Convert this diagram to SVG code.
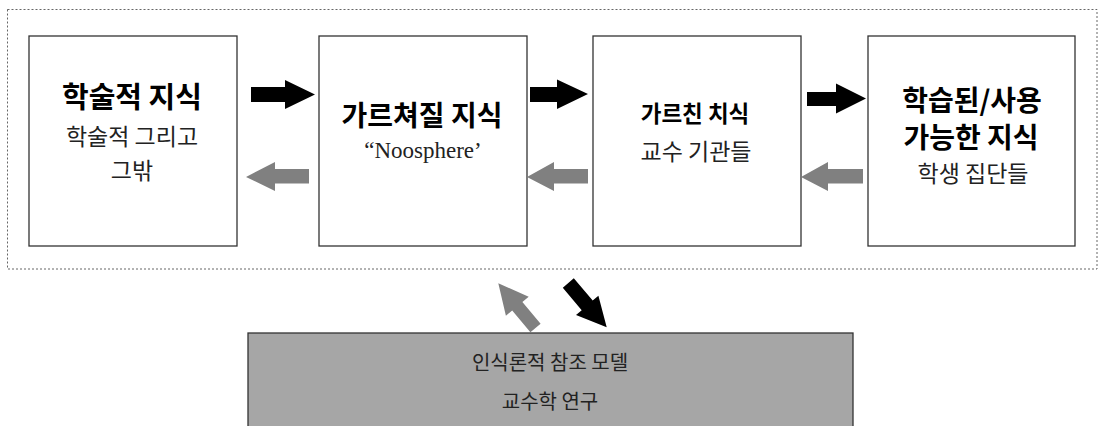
<svg xmlns="http://www.w3.org/2000/svg" width="1099" height="426" viewBox="0 0 1099 426">
<style>
.box{fill:#fff;stroke:#333;stroke-width:1.3}
.frame{fill:none;stroke:#666;stroke-width:1;stroke-dasharray:2 2}
.t{font-family:"Noto Sans CJK KR","Noto Sans",sans-serif;text-anchor:middle;fill:#222}
.b{font-weight:bold;fill:#000}
.s{font-family:"Liberation Serif","Noto Sans CJK KR",serif;text-anchor:middle;fill:#222}
.fw{fill:#000}
.bw{fill:#808080}
</style>
<rect class="frame" x="7.5" y="9.5" width="1089.5" height="259.5"/>
<g id="node1">
<rect class="box" x="29" y="36" width="208" height="210"/>
<text class="t b" x="132" y="108" font-size="29">학술적 지식</text>
<text class="t" x="132" y="145" font-size="23">학술적 그리고</text>
<text class="t" x="132" y="179" font-size="23">그밖</text>
</g>
<g id="node2">
<rect class="box" x="319" y="36" width="208" height="210"/>
<text class="t b" x="422" y="126" font-size="28">가르쳐질 지식</text>
<text class="s" x="423" y="158" font-size="23">“Noosphere’</text>
</g>
<g id="node3">
<rect class="box" x="593" y="36" width="208" height="210"/>
<text class="t b" x="695" y="122" font-size="22.5">가르친 치식</text>
<text class="t" x="696" y="160" font-size="23">교수 기관들</text>
</g>
<g id="node4">
<rect class="box" x="868" y="36" width="207" height="210"/>
<text class="t b" x="972" y="111" font-size="28">학습된/사용</text>
<text class="t b" x="971" y="148" font-size="28">가능한 지식</text>
<text class="t" x="973" y="182" font-size="23">학생 집단들</text>
</g>
<g id="node5">
<rect x="248" y="333" width="605" height="100" fill="#a6a6a6" stroke="#333" stroke-width="1.3"/>
<text class="t" x="550" y="370" font-size="20">인식론적 참조 모델</text>
<text class="t" x="550" y="409" font-size="20">교수학 연구</text>
</g>
<g id="connectors">
<polygon class="fw" points="251,87 285,87 285,80 315,94.5 285,109 285,102 251,102"/>
<polygon class="bw" points="246,177 275,162 275,169 309,169 309,183.5 275,183.5 275,191"/>
<polygon class="fw" points="530,87 557,87 557,79.5 588,94 557,109 557,102 530,102"/>
<polygon class="bw" points="527,177 554,162 554,169 588,169 588,183.5 554,183.5 554,191"/>
<polygon class="fw" points="807,92 836,92 836,83.5 866,98.5 836,113.5 836,106 807,106"/>
<polygon class="bw" points="801,177 828,162 828,169 863,169 863,183.5 828,183.5 828,191"/>
<polygon class="bw" points="498.3,283.3 528.7,296.7 522.4,302 540.6,323.8 530.4,332.2 512.2,310.4 505.9,315.7"/>
<polygon class="fw" points="606.7,327.3 576,315.1 581.7,310.2 562.8,287.8 573.8,278.2 592.7,300.6 598.4,295.7"/>
</g>
</svg>
